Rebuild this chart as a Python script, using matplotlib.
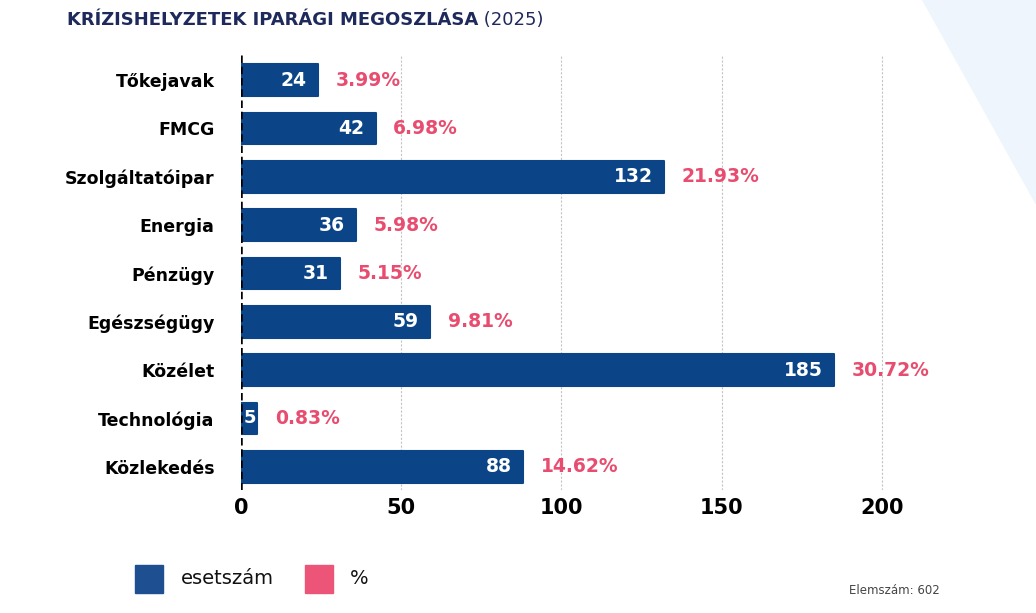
import matplotlib
matplotlib.use("Agg")
import matplotlib.pyplot as plt
from matplotlib.patches import Polygon, Rectangle

# data
categories = ["Tőkejavak", "FMCG", "Szolgáltatóipar", "Energia", "Pénzügy",
              "Egészségügy", "Közélet", "Technológia", "Közlekedés"]
counts = [24, 42, 132, 36, 31, 59, 185, 5, 88]
percents = ["3.99%", "6.98%", "21.93%", "5.98%", "5.15%",
            "9.81%", "30.72%", "0.83%", "14.62%"]
xticks = [0, 50, 100, 150, 200]

BLUE = "#0b4587"
PINK = "#e84c6f"
NAVY = "#1f2a5c"
FONT = "DejaVu Sans"

fig = plt.figure(figsize=(10.36, 6.13), dpi=100)

# light blue corner decoration
fig.patches.append(Polygon([(922/1036, 1), (1, 1), (1, 1 - 205/613)], closed=True,
                           transform=fig.transFigure, facecolor="#eef5fd",
                           edgecolor="none", zorder=0))

ax = fig.add_axes([241/1036, 1 - 490/613, 660/1036, 435/613])
ax.set_facecolor("none")

pos = list(range(len(categories)))
ax.barh(pos, counts, height=0.66, color=BLUE, edgecolor=BLUE, linewidth=1.5,
        joinstyle="round", zorder=3)

ax.set_xlim(0, 206)
ax.set_ylim(8.48, -0.52)

for x in xticks[1:]:
    ax.axvline(x, color="#c4c4c4", lw=0.8, ls=(0, (2, 1.5)), zorder=1)
ax.axvline(0, color="black", lw=1.8, ls=(0, (3, 1.5)), zorder=4)

for i, (c, p) in enumerate(zip(counts, percents)):
    if c < 10:
        ax.text(c / 2 + 0.3, i, str(c), color="white", ha="center", va="center",
                fontsize=13, fontweight="bold", family=FONT, zorder=5)
    else:
        ax.text(c - 3.5, i, str(c), color="white", ha="right", va="center",
                fontsize=13.5, fontweight="bold", family=FONT, zorder=5)
    ax.text(c + 5.5, i, p, color=PINK, ha="left", va="center",
            fontsize=13.5, fontweight="bold", family=FONT, zorder=5)

ax.set_yticks(pos)
ax.set_yticklabels(categories, fontsize=12.5, fontweight="bold", family=FONT)
ax.set_xticks(xticks)
ax.set_xticklabels([str(t) for t in xticks], fontsize=15, fontweight="bold", family=FONT)
ax.tick_params(axis="both", length=0)
ax.tick_params(axis="y", pad=19)
ax.tick_params(axis="x", pad=6)
for s in ax.spines.values():
    s.set_visible(False)

# title
t1 = fig.text(67/1036, 1 - 20/613, "KRÍZISHELYZETEK IPARÁGI MEGOSZLÁSA", color=NAVY,
              fontsize=13, fontweight="bold", family=FONT, va="center", ha="left")
ax.annotate(" (2025)", xy=(1, 0.5), xycoords=t1, color=NAVY, fontsize=13,
            family=FONT, va="center", ha="left")

# legend
fig.patches.append(Rectangle((135/1036, 1 - 593/613), 28/1036, 28/613,
                             transform=fig.transFigure, color="#1d4f91"))
fig.text(181/1036, 1 - 579/613, "esetszám", fontsize=14, family=FONT,
         va="center", ha="left", color="#111111")
fig.patches.append(Rectangle((305/1036, 1 - 593/613), 28/1036, 28/613,
                             transform=fig.transFigure, color="#ec5577"))
fig.text(350/1036, 1 - 579/613, "%", fontsize=14, family=FONT,
         va="center", ha="left", color="#111111")

fig.text(940/1036, 1 - 590/613, "Elemszám: 602", fontsize=8.5, family=FONT,
         va="center", ha="right", color="#444444")

fig.savefig("out.png", dpi=100)
